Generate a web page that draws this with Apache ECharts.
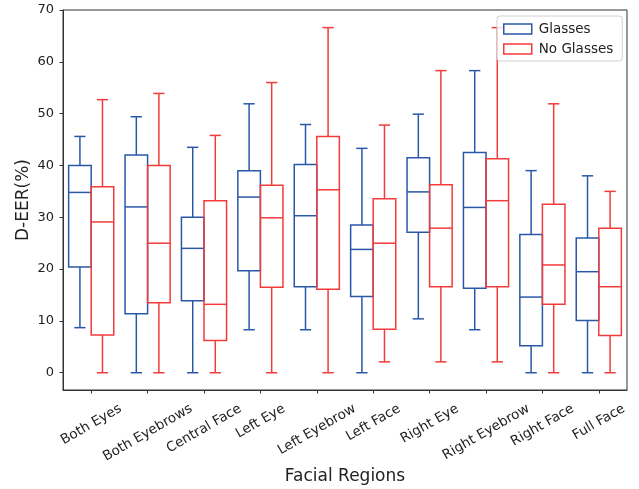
<!DOCTYPE html>
<html>
<head>
<meta charset="utf-8">
<script src="https://cdn.jsdelivr.net/npm/echarts@6/dist/echarts.min.js"></script>
<style>
html,body{margin:0;padding:0;background:#fff;}
#chart{width:639px;height:489px;}
</style>
</head>
<body>
<div id="chart"></div>
<script>
// ---- data ----
const categories = ['Both Eyes', 'Both Eyebrows', 'Central Face', 'Left Eye', 'Left Eyebrow',
  'Left Face', 'Right Eye', 'Right Eyebrow', 'Right Face', 'Full Face'];
// [min, Q1, median, Q3, max] per category
const glasses = [
  [8.7, 20.4, 34.8, 40.0, 45.6],
  [0.0, 11.4, 32.0, 42.0, 49.4],
  [0.0, 13.9, 24.0, 30.0, 43.5],
  [8.3, 19.7, 33.9, 39.0, 51.9],
  [8.3, 16.6, 30.3, 40.2, 47.9],
  [0.0, 14.7, 23.8, 28.5, 43.3],
  [10.4, 27.1, 34.9, 41.5, 49.9],
  [8.3, 16.3, 31.9, 42.5, 58.3],
  [0.0, 5.2, 14.6, 26.7, 39.0],
  [0.0, 10.1, 19.5, 26.0, 38.0]
];
const noGlasses = [
  [0.0, 7.3, 29.1, 35.9, 52.7],
  [0.0, 13.5, 25.0, 40.0, 53.9],
  [0.0, 6.2, 13.2, 33.2, 45.8],
  [0.0, 16.5, 29.9, 36.2, 56.0],
  [0.0, 16.1, 35.3, 45.6, 66.6],
  [2.1, 8.4, 25.0, 33.6, 47.8],
  [2.1, 16.6, 27.9, 36.3, 58.3],
  [2.1, 16.6, 33.2, 41.3, 66.6],
  [0.0, 13.2, 20.8, 32.5, 51.9],
  [0.0, 7.2, 16.6, 27.9, 35.0]
];
const yTicks = [0, 10, 20, 30, 40, 50, 60, 70];
const seriesNames = ['Glasses', 'No Glasses'];

// ---- style ----
const BLUE = '#2a58a8';
const RED = '#f23b3b';
const FONT = 'DejaVu Sans';
const LABEL_SIZE = 13;
const XLABEL_SIZE = 13.5;

const ctx = document.createElement('canvas').getContext('2d');
ctx.font = XLABEL_SIZE + 'px "' + FONT + '"';
const xData = categories.map(function (c) {
  const w = ctx.measureText(c).width;
  const D = 17.5 + 0.25 * w;
  const lh = XLABEL_SIZE;
  return {
    value: c,
    textStyle: {
      align: 'center', verticalAlign: 'top',
      padding: [Math.max(0, 0.866 * D - lh / 2), D, 0, 0]
    }
  };
});

function makeRenderer(side, color) {
  return function (params, api) {
    const xi = api.value(0);
    const band = api.size([1, 0])[0];
    const cx = api.coord([xi, 0])[0] + side * band * 0.2;
    const half = band * 0.2;
    const capHalf = band * 0.1;
    const y = function (i) { return api.coord([xi, api.value(i)])[1]; };
    const yMin = y(1), yQ1 = y(2), yMed = y(3), yQ3 = y(4), yMax = y(5);
    const st = { stroke: color, lineWidth: 1.5, fill: null };
    return {
      type: 'group',
      children: [
        { type: 'rect', shape: { x: cx - half, y: yQ3, width: 2 * half, height: yQ1 - yQ3 }, style: { stroke: color, lineWidth: 1.5, fill: 'none' } },
        { type: 'line', shape: { x1: cx - half, y1: yMed, x2: cx + half, y2: yMed }, style: st },
        { type: 'line', shape: { x1: cx, y1: yQ3, x2: cx, y2: yMax }, style: st },
        { type: 'line', shape: { x1: cx, y1: yQ1, x2: cx, y2: yMin }, style: st },
        { type: 'line', shape: { x1: cx - capHalf, y1: yMax, x2: cx + capHalf, y2: yMax }, style: st },
        { type: 'line', shape: { x1: cx - capHalf, y1: yMin, x2: cx + capHalf, y2: yMin }, style: st }
      ]
    };
  };
}

function toData(arr) {
  return arr.map(function (s, i) { return [i].concat(s); });
}

const chart = echarts.init(document.getElementById('chart'), null, { renderer: 'canvas' });
chart.setOption({
  backgroundColor: '#ffffff',
  animation: false,
  textStyle: { fontFamily: FONT },
  grid: {
    left: 63, right: 12, top: 10, bottom: 99,
    show: true, borderColor: '#333', borderWidth: 1,
    containLabel: false, outerBoundsMode: 'none'
  },
  legend: {
    orient: 'vertical',
    left: 497, top: 16,
    padding: [6, 9, 5, 6],
    itemGap: 6,
    itemWidth: 28, itemHeight: 10,
    borderColor: '#d0d0d0', borderWidth: 1, borderRadius: 3,
    backgroundColor: 'rgba(255,255,255,0.8)',
    textStyle: { fontSize: 13.5, color: '#222', fontFamily: FONT, padding: [0, 0, 0, 2] },
    icon: 'rect',
    data: [
      { name: seriesNames[0], itemStyle: { color: 'rgba(0,0,0,0)', borderColor: BLUE, borderWidth: 1.5 } },
      { name: seriesNames[1], itemStyle: { color: 'rgba(0,0,0,0)', borderColor: RED, borderWidth: 1.5 } }
    ]
  },
  xAxis: {
    type: 'category',
    data: xData,
    boundaryGap: true,
    name: 'Facial Regions',
    nameLocation: 'middle',
    nameGap: 78,
    nameMoveOverlap: false,
    nameTextStyle: { fontSize: 17, color: '#222', fontFamily: FONT },
    axisLine: { show: true, onZero: false, lineStyle: { color: '#333', width: 1 } },
    axisTick: { show: true, alignWithLabel: true, length: 3.5, lineStyle: { color: '#333' } },
    axisLabel: {
      interval: 0, rotate: 30, align: 'center', verticalAlign: 'top', margin: 0,
      fontSize: XLABEL_SIZE, color: '#222', fontFamily: FONT
    },
    splitLine: { show: false }
  },
  yAxis: {
    type: 'value',
    min: -3.33, max: 70,
    name: 'D-EER(%)',
    nameLocation: 'middle',
    nameGap: 31,
    nameMoveOverlap: false,
    nameTextStyle: { fontSize: 17, color: '#222', fontFamily: FONT },
    axisLine: { show: true, onZero: false, lineStyle: { color: '#333', width: 1 } },
    axisTick: { show: true, length: 3.5, lineStyle: { color: '#333' }, customValues: yTicks },
    axisLabel: { fontSize: LABEL_SIZE, color: '#222', margin: 9, fontFamily: FONT, customValues: yTicks },
    splitLine: { show: false }
  },
  series: [
    {
      name: seriesNames[0], type: 'custom',
      renderItem: makeRenderer(-1, BLUE),
      itemStyle: { color: BLUE },
      encode: { x: 0, y: [1, 2, 3, 4, 5] },
      data: toData(glasses)
    },
    {
      name: seriesNames[1], type: 'custom',
      renderItem: makeRenderer(1, RED),
      itemStyle: { color: RED },
      encode: { x: 0, y: [1, 2, 3, 4, 5] },
      data: toData(noGlasses)
    }
  ]
});
</script>
</body>
</html>
